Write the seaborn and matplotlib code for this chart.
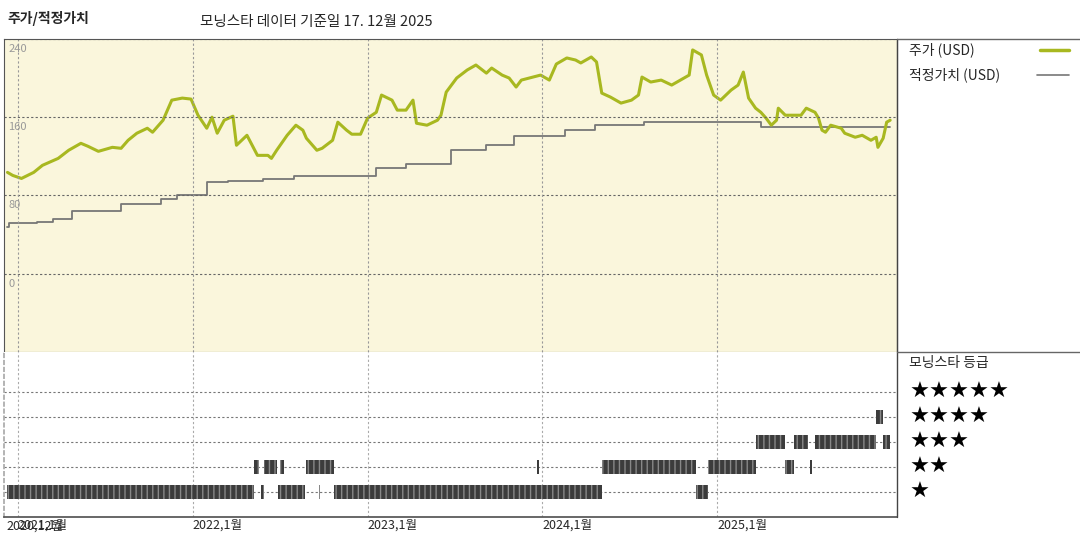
import numpy as np
import pandas as pd
import matplotlib
matplotlib.use("Agg")
import matplotlib.pyplot as plt
import seaborn as sns

sns.set_theme(style="white")
plt.rcParams['font.family'] = ['Noto Sans CJK KR', 'DejaVu Sans']

# price (decimal year, USD)
price_t = [2020.94, 2020.97, 2021.02, 2021.09, 2021.14, 2021.23, 2021.29, 2021.36, 2021.40, 2021.46,
           2021.54, 2021.59, 2021.63, 2021.68, 2021.74, 2021.77, 2021.83, 2021.88, 2021.94, 2021.99,
           2022.03, 2022.08, 2022.11, 2022.14, 2022.18, 2022.23, 2022.25, 2022.31, 2022.37, 2022.43,
           2022.45, 2022.48, 2022.54, 2022.59, 2022.63, 2022.65, 2022.71, 2022.74, 2022.80, 2022.83,
           2022.88, 2022.91, 2022.96, 2023.00, 2023.05, 2023.08, 2023.14, 2023.17, 2023.22, 2023.26,
           2023.28, 2023.34, 2023.40, 2023.42, 2023.45, 2023.51, 2023.57, 2023.62, 2023.68, 2023.71,
           2023.77, 2023.81, 2023.85, 2023.88, 2023.99, 2024.04, 2024.08, 2024.14, 2024.19, 2024.22,
           2024.28, 2024.31, 2024.34, 2024.39, 2024.45, 2024.51, 2024.55, 2024.57, 2024.62, 2024.68,
           2024.74, 2024.79, 2024.84, 2024.86, 2024.91, 2024.94, 2024.98, 2025.02, 2025.08, 2025.12,
           2025.15, 2025.18, 2025.22, 2025.25, 2025.28, 2025.31, 2025.34, 2025.35, 2025.39, 2025.45,
           2025.48, 2025.51, 2025.56, 2025.58, 2025.60, 2025.62, 2025.65, 2025.71, 2025.73, 2025.79,
           2025.83, 2025.88, 2025.91, 2025.92, 2025.95, 2025.97, 2025.99]
price_v = [103.6, 100.5, 97.4, 103.6, 110.8, 117.9, 126.2, 133.3, 130.3, 125.1,
           129.2, 128.2, 136.4, 143.6, 148.7, 144.6, 156.9, 177.4, 179.5, 178.5,
           162.0, 148.7, 160.0, 143.6, 156.9, 161.0, 131.3, 141.5, 121.0, 121.0,
           117.9, 126.2, 141.5, 151.8, 146.7, 138.5, 126.2, 128.2, 136.4, 154.9,
           146.7, 142.6, 142.6, 159.0, 165.0, 182.6, 177.4, 167.2, 167.2, 177.4,
           153.8, 151.8, 156.9, 162.0, 185.6, 200.0, 208.2, 213.3, 205.0, 210.2,
           203.0, 200.0, 190.8, 197.9, 203.0, 197.9, 214.3, 220.5, 218.4, 215.4,
           221.5, 216.4, 184.6, 180.5, 174.4, 177.4, 182.6, 201.0, 195.9, 197.9,
           192.8, 197.9, 203.0, 228.7, 223.6, 203.0, 182.6, 177.4, 187.7, 192.8,
           206.1, 179.5, 169.2, 165.0, 159.0, 151.8, 156.9, 169.2, 162.0, 162.0,
           162.0, 169.2, 165.0, 159.0, 146.7, 144.6, 151.8, 148.7, 143.6, 139.5,
           141.5, 136.4, 139.5, 129.2, 138.5, 154.9, 156.9]

# fair value steps
fv_t = [2020.94, 2020.95, 2021.11, 2021.20, 2021.31, 2021.59, 2021.82, 2021.91, 2022.08, 2022.20,
        2022.40, 2022.58, 2023.05, 2023.22, 2023.48, 2023.68, 2023.84, 2024.13, 2024.30, 2024.58,
        2025.25, 2025.99]
fv_v = [48.2, 52.3, 53.3, 56.4, 64.6, 71.8, 75.9, 81.0, 93.3, 94.4,
        96.4, 99.5, 107.7, 111.8, 126.2, 131.3, 140.6, 146.7, 151.8, 154.9,
        149.7, 149.7]

# star rating periods
rating_start = [2020.94, 2022.39, 2022.49, 2022.72, 2022.81, 2024.88,
                2022.35, 2022.41, 2022.50, 2022.65, 2023.97, 2024.34, 2024.95, 2025.39, 2025.53,
                2025.22, 2025.44, 2025.56, 2025.95,
                2025.91]
rating_end = [2022.35, 2022.41, 2022.64, 2022.73, 2024.34, 2024.95,
              2022.38, 2022.48, 2022.52, 2022.81, 2023.98, 2024.88, 2025.22, 2025.44, 2025.54,
              2025.39, 2025.52, 2025.91, 2025.99,
              2025.95]
rating_val = [1, 1, 1, 1, 1, 1,
              2, 2, 2, 2, 2, 2, 2, 2, 2,
              3, 3, 3, 3,
              4]

year_ticks = [2021, 2022, 2023, 2024, 2025]
year_labels = ['2021,1월', '2022,1월', '2023,1월', '2024,1월', '2025,1월']
y_ticks = [0, 80, 160, 240]

price_col = '#a8b820'
fv_col = '#777777'
bg = '#faf6dc'
xmin, xmax = 2020.92, 2026.03

fig = plt.figure(figsize=(10.8, 5.4), dpi=100)
ax = fig.add_axes([0.0037, 0.348, 0.827, 0.58])
ax2 = fig.add_axes([0.0037, 0.043, 0.827, 0.305])

ax.set_facecolor(bg)
sns.lineplot(x=fv_t, y=fv_v, ax=ax, color=fv_col, lw=1.3, drawstyle='steps-post')
sns.lineplot(x=price_t, y=price_v, ax=ax, color=price_col, lw=2.2)
ax.set_xlim(xmin, xmax)
ax.set_ylim(-80, 240)
for yv in y_ticks:
    ax.axhline(yv, color='#666666', lw=0.8, ls=(0, (2, 2)))
    ax.text(2020.945, yv - 5, str(yv), color='#999999', fontsize=8, va='top', ha='left')
for xv in year_ticks:
    ax.axvline(xv, color='#999999', lw=0.8, ls=(0, (2, 2)))
ax.set_xticks([])
ax.set_yticks([])
ax.set_xlabel('')
ax.set_ylabel('')
for s in ax.spines.values():
    s.set_color('#555555')
    s.set_linewidth(0.8)

# rating panel
df = pd.DataFrame({'start': rating_start, 'end': rating_end, 'val': rating_val})
ax2.barh(df['val'], df['end'] - df['start'], left=df['start'], height=0.56,
         color='#3c3c3c', edgecolor='#888888', hatch='|||', linewidth=0)
for r in range(1, 6):
    ax2.axhline(r, color='#777777', lw=0.8, ls=(0, (2, 2)), zorder=0)
for xv in year_ticks:
    ax2.axvline(xv, color='#aaaaaa', lw=0.8, ls=(0, (2, 2)), zorder=0)
ax2.set_xlim(xmin, xmax)
ax2.set_ylim(0, 6.6)
ax2.set_yticks([])
ax2.set_xticks(year_ticks)
ax2.set_xticklabels(year_labels, fontsize=9, ha='left')
ax2.tick_params(axis='x', length=0, pad=1)
ax2.text(2020.935, -0.12, '2020,12월', fontsize=9, va='top', ha='left')
for s in ax2.spines.values():
    s.set_visible(False)
ax2.spines['bottom'].set_visible(True)
ax2.spines['bottom'].set_color('#555555')
ax2.spines['left'].set_visible(True)
ax2.spines['left'].set_color('#aaaaaa')
ax2.spines['left'].set_linestyle((0, (2, 2)))

# right-hand legend panel
fig.add_artist(plt.Line2D([0.8305, 0.8305], [0.043, 0.928], color='#444444', lw=1))
fig.add_artist(plt.Line2D([0.8305, 1.0], [0.928, 0.928], color='#666666', lw=1))
fig.add_artist(plt.Line2D([0.8305, 1.0], [0.348, 0.348], color='#666666', lw=1))
fig.text(0.842, 0.908, '주가 (USD)', fontsize=10, va='center')
fig.add_artist(plt.Line2D([0.963, 0.99], [0.908, 0.908], color=price_col, lw=2.5))
fig.text(0.842, 0.862, '적정가치 (USD)', fontsize=10, va='center')
fig.add_artist(plt.Line2D([0.96, 0.99], [0.862, 0.862], color=fv_col, lw=1.2))
fig.text(0.842, 0.328, '모닝스타 등급', fontsize=10, va='center')
for r in range(1, 6):
    yv = 0.043 + 0.305 * r / 6.6
    fig.text(0.842, yv, '★' * r, fontsize=16, va='center', color='black',
             family=['DejaVu Sans'])

fig.text(0.007, 0.966, '주가/적정가치', fontsize=10, fontweight='bold', va='center')
fig.text(0.185, 0.96, '모닝스타 데이터 기준일 17. 12월 2025', fontsize=10.5, va='center')

fig.savefig('out.png', dpi=100)
